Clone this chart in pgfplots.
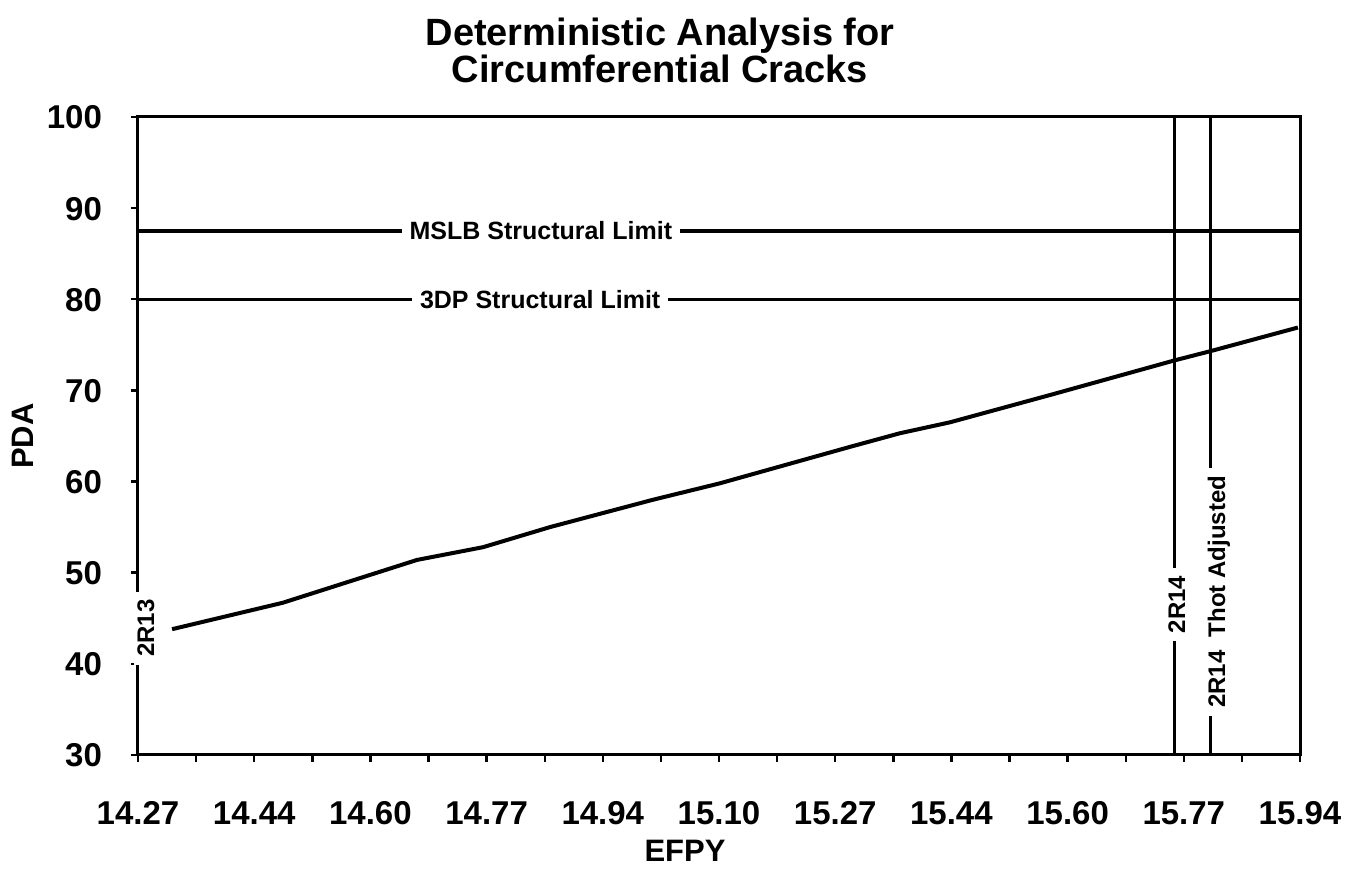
\documentclass[border=0pt]{standalone}
\usepackage{fontspec}
\setmainfont{Liberation Sans}
\usepackage{pgfplots}
\pgfplotsset{compat=1.18}
\usetikzlibrary{calc}
\begin{document}
\begin{tikzpicture}
\begin{axis}[name=ax, set layers, scale only axis, width=581pt, height=319pt,
  xmin=14.27, xmax=15.94, ymin=30, ymax=100,
  xtick={14.27,14.3535,14.437,14.5205,14.604,14.6875,14.771,14.8545,14.938,15.0215,15.105,15.1885,15.272,15.3555,15.439,15.5225,15.606,15.6895,15.773,15.8565,15.94},
  xticklabels={14.27,,14.44,,14.60,,14.77,,14.94,,15.10,,15.27,,15.44,,15.60,,15.77,,15.94},
  ytick={30,40,50,60,70,80,90,100},
  yticklabels={30,40,50,60,70,80,90,100},
  tick align=outside, major tick length=3.5pt,
  tick style={line width=1.2pt, black},
  xtick pos=bottom, ytick pos=left,
  axis line style={line width=1.5pt},
  xticklabel style={font=\fontsize{16.5}{20}\selectfont\bfseries, anchor=north, text height=12pt, text depth=0pt, yshift=-15.5pt},
  yticklabel style={font=\fontsize{16.5}{20}\selectfont\bfseries, anchor=east, text height=12pt, text depth=0pt, xshift=-11pt},
  clip=false,
  every axis plot/.append style={black},
]
% curve
\addplot[line width=2pt] coordinates {
(14.319,43.8) (14.478,46.7) (14.671,51.4) (14.766,52.8) (14.862,55.0)
(15.010,58.0) (15.106,59.8) (15.293,63.8) (15.365,65.3) (15.437,66.5)
(15.581,69.5) (15.760,73.3) (15.811,74.3) (15.937,76.9)};
% structural limits
\addplot[line width=1.6pt] coordinates {(14.27,87.5) (15.94,87.5)};
\addplot[line width=1.6pt] coordinates {(14.27,80.0) (15.94,80.0)};
% refuelling outages
\addplot[line width=1.5pt] coordinates {(15.760,30) (15.760,100)};
\addplot[line width=1.5pt] coordinates {(15.811,30) (15.811,100)};
% labels
\node[fill=white, inner xsep=4pt, inner ysep=1pt, font=\fontsize{12.5}{14}\selectfont\bfseries] at (axis cs:14.849,87.5) {MSLB Structural Limit};
\node[fill=white, inner xsep=4pt, inner ysep=1pt, font=\fontsize{12.5}{14}\selectfont\bfseries] at (axis cs:14.848,80.0) {3DP Structural Limit};
\node[rotate=90, fill=white, inner xsep=4pt, inner ysep=1.5pt, font=\fontsize{12}{14}\selectfont\bfseries] at (axis cs:14.2815,43.9) {2R13};
\node[rotate=90, fill=white, inner xsep=4pt, inner ysep=1.5pt, font=\fontsize{12}{14}\selectfont\bfseries] at (axis cs:15.763,46.5) {2R14};
\node[rotate=90, fill=white, inner xsep=4pt, inner ysep=1.5pt, font=\fontsize{12}{14}\selectfont\bfseries] at (axis cs:15.8236,47.9) {2R14\ \ Thot Adjusted};
\end{axis}
\node[anchor=base, font=\fontsize{19}{23}\selectfont\bfseries] at ($(ax.north)+(-29.5pt,35.5pt)$) {Deterministic Analysis for};
\node[anchor=base, font=\fontsize{19}{23}\selectfont\bfseries] at ($(ax.north)+(-29.5pt,17pt)$) {Circumferential Cracks};
\node[anchor=base, font=\fontsize{15.5}{18}\selectfont\bfseries] at ($(ax.south)+(-17pt,-53.5pt)$) {EFPY};
\node[rotate=90, anchor=center, font=\fontsize{15.5}{18}\selectfont\bfseries] at ($(ax.west)+(-57.5pt,0)$) {PDA};
\path[use as bounding box] ($(ax.south west)+(-69pt,-55pt)$) rectangle ($(ax.north east)+(28pt,58.5pt)$);
\end{tikzpicture}
\end{document}
